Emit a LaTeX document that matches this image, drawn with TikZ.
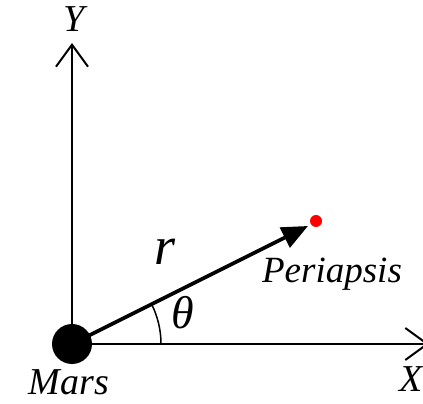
\documentclass[tikz,border=0pt]{standalone}
\usepackage{fontspec}
\setmainfont{Liberation Serif}
\usepackage{tikz}
\usetikzlibrary{calc,arrows.meta,positioning}
\definecolor{PeriRed}{HTML}{FF0000}

\begin{document}
\begin{tikzpicture}[x=1pt,y=1pt,
    every node/.style={font=\fontsize{38}{44}\selectfont\itshape, inner sep=0pt},
    axis/.style={line width=2pt, -{Straight Barb[length=22pt,width=32pt,line width=2pt]}},
    radvec/.style={line width=3.6pt, -{Triangle[length=26pt,width=22pt]}},
    planet/.style={circle, fill=black, minimum size=40pt},
    peri/.style={circle, fill=PeriRed, minimum size=12pt}]
  \useasboundingbox (0,0) rectangle (423,404);
  % Mars and the axes
  \node[planet] (mars) at (72,60) {};
  \coordinate (xend) at (429,60);
  \coordinate (yend) at (72,361);
  \draw[axis] (mars.center) -- (xend);
  \draw[axis] (mars.center) -- (yend);
  \node[anchor=base] (ylab) at (74,372) {Y};
  \node[anchor=base] (xlab) at (411,12) {X};
  \node[anchor=base] (marslab) at (69,9) {Mars};
  % radius vector to periapsis
  \node[peri] (peri) at (316,183) {};
  \coordinate (tip) at (308,178);
  \draw[radvec] (mars.center) -- (tip);
  \node[anchor=base, font=\fontsize{54}{60}\selectfont\itshape] (rlab) at (165,139) {r};
  \node[anchor=base, font=\fontsize{37}{44}\selectfont\itshape] (perilab) at (332,121) {Periapsis};
  % angle
  \draw[line width=1.5pt] ($(mars.center)+(89,0)$) arc[start angle=0, end angle=26.7, radius=89];
  \node[anchor=base, font=\fontsize{46}{52}\selectfont\itshape] (thlab) at (183,75) {θ};
\end{tikzpicture}
\end{document}
